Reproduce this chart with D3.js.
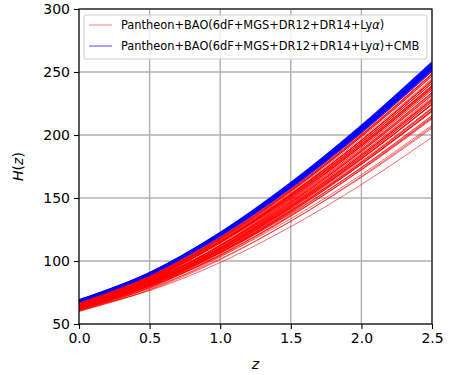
<!DOCTYPE html>
<html>
<head>
<meta charset="utf-8">
<script src="https://cdn.jsdelivr.net/npm/d3@7"></script>
<style>
  body { margin: 0; background: #fff; }
  text { font-family: "DejaVu Sans", sans-serif; }
  .tick-label { font-size: 14px; fill: #000; }
  .legend-text { font-size: 11.4px; fill: #000; }
</style>
</head>
<body>
<svg id="chart" width="450" height="375"></svg>
<script>
// redshift samples shared by every curve
const zValues = [0, 0.5, 1.0, 1.5, 2.0, 2.5];

// H(z) curves, Pantheon+BAO (red band)
const redCurves = [
  [62.0, 76.5, 98.8, 127.3, 160.7, 198.2],
  [61.0, 77.0, 101.1, 131.6, 167.1, 206.5],
  [63.0, 78.3, 101.7, 131.6, 166.4, 205.4],
  [60.0, 77.4, 103.2, 135.4, 172.7, 214.0],
  [64.0, 80.2, 104.8, 135.9, 172.2, 212.7],
  [62.5, 80.1, 106.2, 139.0, 177.0, 219.1],
  [65.0, 80.2, 103.6, 133.5, 168.5, 207.7],
  [61.5, 80.5, 108.3, 142.7, 182.4, 226.5],
  [63.5, 80.8, 106.6, 139.1, 176.8, 218.8],
  [66.0, 82.0, 106.6, 137.9, 174.3, 215.2],
  [64.5, 82.6, 109.6, 143.4, 182.7, 226.1],
  [62.0, 81.7, 110.4, 145.8, 186.6, 231.8],
  [65.5, 82.7, 108.6, 141.3, 179.4, 221.8],
  [60.5, 80.8, 110.1, 146.1, 187.4, 232.9],
  [67.0, 82.7, 106.8, 137.6, 173.7, 214.1],
  [63.0, 81.9, 109.7, 144.2, 184.1, 228.4],
  [66.5, 84.6, 111.7, 145.7, 185.2, 229.2],
  [64.0, 83.8, 112.7, 148.5, 189.8, 235.7],
  [61.0, 82.0, 112.1, 149.1, 191.4, 238.1],
  [65.0, 83.9, 111.8, 146.7, 187.1, 231.9],
  [67.5, 84.6, 110.5, 143.3, 181.6, 224.3],
  [63.5, 84.3, 114.3, 151.3, 193.9, 241.0],
  [66.0, 85.8, 114.9, 151.1, 192.9, 239.3],
  [62.5, 84.0, 114.9, 152.8, 196.1, 244.0],
  [65.0, 85.7, 115.7, 152.9, 195.7, 243.0],
  [67.0, 86.4, 115.2, 151.2, 192.8, 239.0],
  [64.5, 86.2, 117.4, 155.8, 199.8, 248.3],
  [66.5, 87.6, 118.4, 156.4, 200.2, 248.6],
  [68.0, 87.1, 115.5, 151.2, 192.6, 238.4],
  [67.5, 88.4, 118.9, 156.7, 200.2, 248.6],
  [63.0, 80.7, 107.0, 140.1, 178.4, 220.9],
  [61.5, 78.8, 104.5, 136.8, 174.2, 215.6],
  [64.0, 81.4, 107.5, 140.2, 178.2, 220.5],
  [66.0, 84.5, 112.1, 146.8, 186.9, 231.4],
  [62.0, 80.0, 106.6, 139.9, 178.4, 221.2],
  [65.5, 85.2, 114.0, 149.9, 191.4, 237.4],
  [68.0, 88.4, 118.4, 155.7, 198.7, 246.5],
  [67.0, 88.3, 119.3, 157.6, 201.7, 250.5],
  [60.5, 78.7, 105.3, 138.5, 176.8, 219.3],
  [64.5, 81.4, 106.9, 139.2, 176.7, 218.4],
  [66.0, 86.4, 116.2, 153.2, 195.8, 243.1],
  [65.0, 85.1, 114.5, 150.9, 192.8, 239.4],
  [63.0, 83.0, 112.1, 148.2, 189.6, 235.6],
  [67.0, 87.1, 116.6, 153.4, 195.8, 242.9],
  [64.0, 84.9, 115.2, 152.5, 195.4, 242.9],
  [62.0, 82.8, 112.8, 149.7, 192.0, 238.7],
  [66.5, 85.8, 114.4, 150.1, 191.4, 237.2],
  [65.5, 86.9, 117.9, 156.1, 200.0, 248.6],
  [63.5, 83.1, 111.8, 147.4, 188.3, 233.9],
  [64.5, 83.9, 112.3, 147.6, 188.5, 233.8],
  [67.5, 86.5, 114.7, 150.1, 191.2, 236.7],
  [62.5, 81.8, 110.1, 145.1, 185.4, 230.2],
  [66.0, 87.0, 117.5, 155.2, 198.7, 246.8],
  [61.5, 81.6, 110.7, 146.6, 187.8, 233.4],
  [65.0, 83.3, 110.4, 144.6, 184.1, 227.9],
  [63.0, 81.3, 108.4, 142.2, 181.3, 224.7],
  [64.0, 82.6, 110.1, 144.4, 184.2, 228.3],
  [66.5, 86.5, 115.8, 152.2, 194.3, 241.1],
  [67.0, 87.7, 118.0, 155.5, 198.7, 246.8],
  [68.0, 87.7, 117.0, 153.5, 195.7, 242.6],
  [62.0, 80.6, 107.9, 141.9, 181.2, 224.8],
  [65.0, 86.8, 118.3, 157.0, 201.3, 250.3],
  [63.5, 85.3, 116.7, 155.2, 199.2, 247.9],
  [66.0, 84.0, 110.8, 144.6, 183.8, 227.4],
  [64.0, 82.0, 108.7, 142.3, 181.2, 224.4],
  [62.5, 82.9, 112.5, 148.9, 190.8, 237.2],
  [65.5, 85.7, 115.3, 152.0, 194.3, 241.2],
  [67.5, 87.8, 117.5, 154.5, 197.2, 244.7],
  [64.5, 85.0, 114.8, 151.7, 194.1, 241.2],
  [61.0, 80.4, 108.6, 143.5, 183.6, 228.1],
  [63.0, 79.5, 104.5, 136.0, 172.6, 213.3],
  [66.0, 82.7, 108.0, 140.1, 177.5, 219.3],
  [65.0, 82.7, 109.1, 142.4, 181.0, 224.0],
  [63.5, 81.9, 109.2, 143.3, 182.8, 226.5],
  [60.0, 79.1, 106.8, 141.1, 180.6, 224.3]
];

// H(z) curves, Pantheon+BAO+CMB (blue band)
const blueCurves = [
  [68.0, 89.3, 120.4, 158.9, 203.2, 252.3],
  [68.5, 89.7, 120.6, 159.0, 203.2, 252.3],
  [68.3, 90.0, 121.6, 160.6, 205.6, 255.4],
  [68.8, 90.4, 121.8, 160.8, 205.6, 255.3],
  [67.8, 89.4, 120.7, 159.5, 204.1, 253.5],
  [68.6, 90.4, 122.1, 161.3, 206.5, 256.5],
  [69.0, 90.3, 121.5, 160.1, 204.7, 254.1],
  [68.2, 90.2, 122.1, 161.5, 206.7, 256.9],
  [67.9, 89.2, 120.2, 158.6, 202.9, 252.0],
  [68.4, 89.8, 121.1, 159.8, 204.4, 253.8],
  [68.5, 90.6, 122.6, 162.2, 207.7, 258.0],
  [67.6, 88.8, 119.7, 157.9, 202.0, 250.9],
  [68.1, 89.8, 121.2, 160.2, 205.0, 254.6],
  [69.2, 90.6, 121.9, 160.6, 205.2, 254.9],
  [68.9, 90.8, 122.6, 162.1, 207.4, 257.6],
  [67.7, 89.5, 121.2, 160.3, 205.2, 255.0]
];

const xTicks = [0, 0.5, 1.0, 1.5, 2.0, 2.5];
const yTicks = [50, 100, 150, 200, 250, 300];
const legendLabels = [
  'Pantheon+BAO(6dF+MGS+DR12+DR14+Ly',
  'Pantheon+BAO(6dF+MGS+DR12+DR14+Ly'
];
const legendSuffix = [')', ')+CMB'];

const margin = { top: 9, right: 18, bottom: 51, left: 79 };
const width = 450 - margin.left - margin.right;
const height = 375 - margin.top - margin.bottom;

const svg = d3.select('#chart');
const g = svg.append('g')
  .attr('transform', `translate(${margin.left},${margin.top})`);

const xScale = d3.scaleLinear().domain([0, 2.5]).range([0, width]);
const yScale = d3.scaleLinear().domain([50, 300]).range([height, 0]);

// grid
g.append('g')
  .selectAll('line')
  .data(xTicks)
  .enter()
  .append('line')
  .attr('x1', (d) => xScale(d))
  .attr('x2', (d) => xScale(d))
  .attr('y1', 0)
  .attr('y2', height)
  .attr('stroke', '#b0b0b0')
  .attr('stroke-width', 1.4);
g.append('g')
  .selectAll('line')
  .data(yTicks)
  .enter()
  .append('line')
  .attr('x1', 0)
  .attr('x2', width)
  .attr('y1', (d) => yScale(d))
  .attr('y2', (d) => yScale(d))
  .attr('stroke', '#b0b0b0')
  .attr('stroke-width', 1.4);

// curves
g.append('clipPath')
  .attr('id', 'clip')
  .append('rect')
  .attr('width', width)
  .attr('height', height);

const line = d3.line()
  .x((d, i) => xScale(zValues[i]))
  .y((d) => yScale(d))
  .curve(d3.curveMonotoneX);

const curves = g.append('g').attr('clip-path', 'url(#clip)');
curves.selectAll('.red')
  .data(redCurves)
  .enter()
  .append('path')
  .attr('class', 'red')
  .attr('d', line)
  .attr('fill', 'none')
  .attr('stroke', 'red')
  .attr('stroke-opacity', 0.6)
  .attr('stroke-width', 1);
curves.selectAll('.blue')
  .data(blueCurves)
  .enter()
  .append('path')
  .attr('class', 'blue')
  .attr('d', line)
  .attr('fill', 'none')
  .attr('stroke', 'blue')
  .attr('stroke-opacity', 0.8)
  .attr('stroke-width', 1.3);

// axes
const xAxis = g.append('g')
  .attr('transform', `translate(0,${height})`)
  .call(d3.axisBottom(xScale).tickValues(xTicks).tickFormat(d3.format('.1f')).tickSize(5).tickPadding(4));
const yAxis = g.append('g')
  .call(d3.axisLeft(yScale).tickValues(yTicks).tickSize(5).tickPadding(4));
[xAxis, yAxis].forEach((a) => {
  a.select('.domain').remove();
  a.selectAll('line').attr('stroke', '#000').attr('stroke-width', 1.1);
  a.selectAll('text').attr('class', 'tick-label').attr('font-family', null).attr('font-size', null);
});

// frame
g.append('rect')
  .attr('width', width)
  .attr('height', height)
  .attr('fill', 'none')
  .attr('stroke', '#000')
  .attr('stroke-width', 1.1);

// axis labels
const xLabel = svg.append('text')
  .attr('x', margin.left + width / 2)
  .attr('y', 369)
  .attr('text-anchor', 'middle')
  .attr('font-size', 14);
xLabel.append('tspan').attr('font-style', 'italic').text('z');

const yLabel = svg.append('text')
  .attr('transform', `translate(23,${margin.top + height / 2}) rotate(-90)`)
  .attr('text-anchor', 'middle')
  .attr('font-size', 14);
yLabel.append('tspan').attr('font-style', 'italic').text('H');
yLabel.append('tspan').text('(');
yLabel.append('tspan').attr('font-style', 'italic').text('z');
yLabel.append('tspan').text(')');

// legend
const legend = g.append('g').attr('transform', 'translate(5,6)');
legend.append('rect')
  .attr('width', 343)
  .attr('height', 44)
  .attr('rx', 2)
  .attr('fill', '#fff')
  .attr('fill-opacity', 0.8)
  .attr('stroke', '#cccccc')
  .attr('stroke-width', 1);
const legendColors = ['red', 'blue'];
const legendOpacity = [0.5, 0.7];
legendLabels.forEach((label, i) => {
  const y = 10 + i * 21;
  legend.append('line')
    .attr('x1', 5).attr('x2', 28)
    .attr('y1', y).attr('y2', y)
    .attr('stroke', legendColors[i])
    .attr('stroke-opacity', legendOpacity[i])
    .attr('stroke-width', 1);
  const t = legend.append('text')
    .attr('class', 'legend-text')
    .attr('x', 37)
    .attr('y', y + 4);
  t.append('tspan').text(label);
  t.append('tspan').attr('font-style', 'italic').text('α');
  t.append('tspan').text(legendSuffix[i]);
});
</script>
</body>
</html>
